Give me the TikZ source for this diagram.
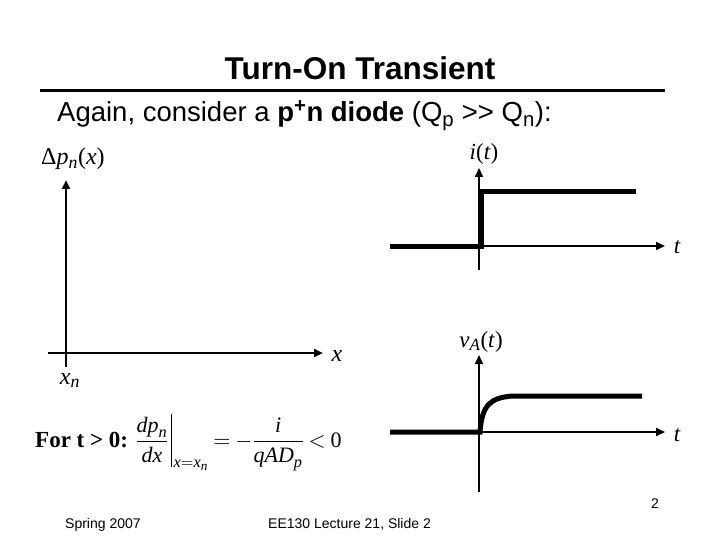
\documentclass[tikz,border=0pt]{standalone}
\usepackage{amsmath}
\usepackage{mathptmx}
\usepackage[no-math]{fontspec}
\setmainfont{Liberation Sans}
\newfontfamily\serifface{Liberation Serif}
\usetikzlibrary{arrows.meta}

\newcommand{\pxfont}[1]{\fontsize{#1}{#1}\selectfont}
\newcommand{\mv}[1]{\textnormal{\serifface\itshape #1}}
\newcommand{\evalbar}{\,{\vrule height 33pt depth 20pt width 0.7pt\kern2pt}}

\tikzset{
  lbl/.style={anchor=base, inner sep=0pt},
  axisline/.style={line width=2pt, -{Triangle[length=9pt,width=8pt]}},
  wave/.style={line width=5pt, line join=miter},
}

\begin{document}
\begin{tikzpicture}[x=1pt,y=-1pt]
\useasboundingbox (0,0) rectangle (720,540);
% heading
\node[lbl, font=\bfseries\pxfont{31.5}] (title) at (360,80) {Turn-On Transient};
\coordinate (ruleL) at (40,91);
\coordinate (ruleR) at (665,91);
\draw[line width=3pt] (ruleL) -- (ruleR);
\node[lbl, anchor=base west, font=\pxfont{27.5}] (intro) at (57,122) {Again, consider a \textbf{p\textsuperscript{+}n diode} (Q\textsubscript{p} >\kern0pt> Q\textsubscript{n}):};

% excess hole profile
\coordinate (pTop) at (66,180);
\coordinate (pBot) at (66,367);
\coordinate (pL) at (48,353);
\coordinate (pR) at (323,353);
\draw[axisline, line width=2.5pt] (pBot) -- (pTop);
\draw[axisline, line width=2.5pt] (pL) -- (pR);
\node[lbl, anchor=base west, font=\serifface\pxfont{24}] (dpn) at (41,165) {Δ\textit{p}\textsubscript{\textit{n}}(\textit{x})};
\node[lbl, font=\serifface\itshape\pxfont{24}] (xlbl) at (337,361) {x};
\node[lbl, font=\serifface\pxfont{24}] (xn) at (70,384) {\textit{x}\textsubscript{\textit{n}}};

% current step
\coordinate (iTop) at (479,168);
\coordinate (iBot) at (479,270);
\coordinate (iL) at (479,246);
\coordinate (iR) at (665,246);
\draw[axisline] (iBot) -- (iTop);
\draw[axisline] (iL) -- (iR);
\coordinate (iA) at (390,246);
\coordinate (iB) at (481,246);
\coordinate (iC) at (481,192);
\coordinate (iD) at (636,192);
\draw[wave] (iA) -- (iB) -- (iC) -- (iD);
\node[lbl, font=\serifface\pxfont{23}] (ilbl) at (484,160) {\textit{i}(\textit{t})};
\node[lbl, font=\serifface\itshape\pxfont{23}] (it) at (677,254) {t};

% diode voltage
\coordinate (vTop) at (479,355);
\coordinate (vBot) at (479,492);
\coordinate (vL) at (479,432);
\coordinate (vR) at (665,432);
\draw[axisline] (vBot) -- (vTop);
\draw[axisline] (vL) -- (vR);
\coordinate (vA) at (390,432);
\coordinate (vB) at (480,432);
\coordinate (vC) at (512,396);
\coordinate (vD) at (642,396);
\draw[wave] (vA) -- (vB) .. controls (482,405) and (490,398) .. (vC) -- (vD);
\node[lbl, font=\serifface\pxfont{23}] (vlbl) at (481,347) {\textit{v}\textsubscript{\textit{A}}(\textit{t})};
\node[lbl, font=\serifface\itshape\pxfont{23}] (vt) at (677,441) {t};

% boundary condition
\node[lbl, anchor=base west, font=\serifface\bfseries\pxfont{23}] (cond) at (35,447) {For t > 0:};
\node[lbl, anchor=base west, font=\pxfont{22}] (bc) at ([xshift=7pt]cond.base east) {$\dfrac{\mv{dp}_{\mv{n}}}{\mv{dx}}\evalbar_{\mv{x}=\mv{x}_{\mv{n}}} = -\dfrac{\mv{i}}{\mv{qAD}_{\mv{p}}} < \textnormal{\serifface 0}$};

% footer
\node[lbl, anchor=base west, font=\pxfont{14}] (season) at (65,528) {Spring 2007};
\node[lbl, anchor=base west, font=\pxfont{14}] (course) at (268,528) {EE130 Lecture 21, Slide 2};
\node[lbl, font=\pxfont{14}] (page) at (655,508) {2};
\end{tikzpicture}
\end{document}
